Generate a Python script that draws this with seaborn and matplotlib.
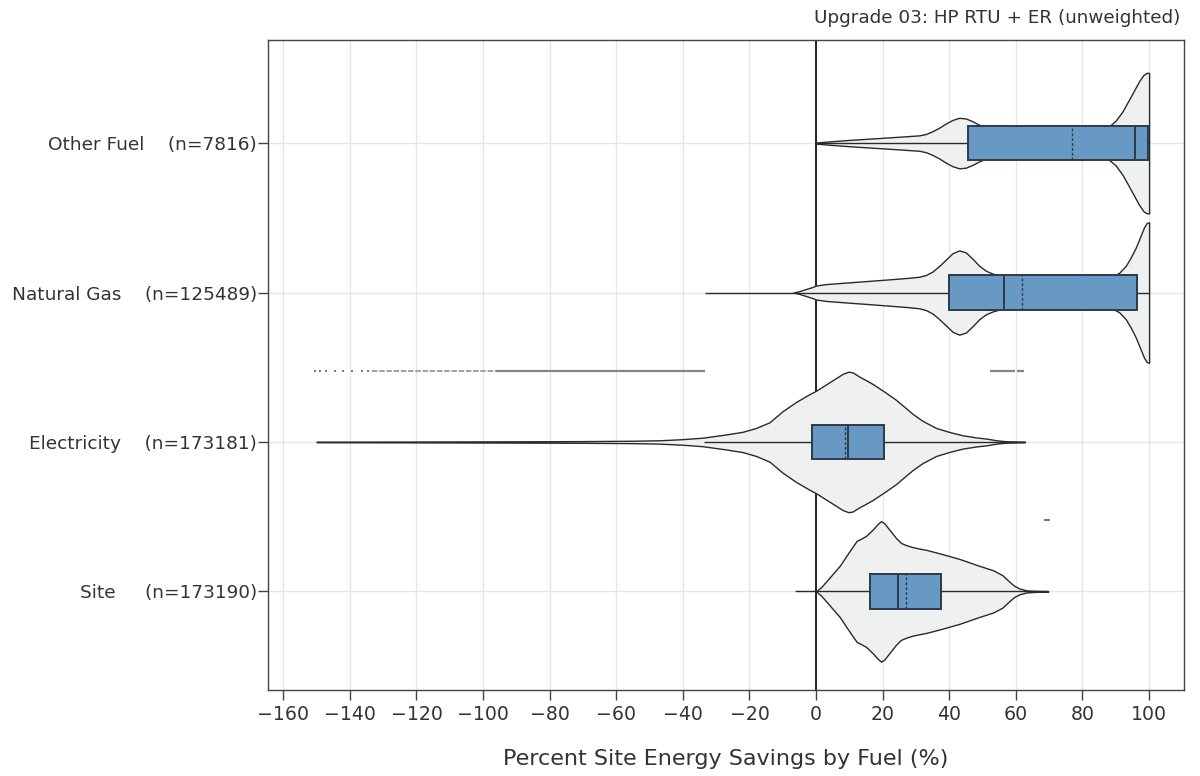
import numpy as np
import pandas as pd
import matplotlib
matplotlib.use("Agg")
import matplotlib.pyplot as plt
import seaborn as sns

# ---------------- data ----------------
categories = ["Site", "Electricity", "Natural Gas", "Other Fuel"]
counts = [173190, 173181, 125489, 7816]
label_pad = [5, 4, 4, 4]

# box statistics (percent savings)
whisker_lo = [-6.3, -33.8, -33.5, 0.0]
q1 = [16.3, -1.3, 39.8, 45.6]
median = [24.7, 9.7, 56.3, 95.9]
q3 = [37.4, 20.3, 96.3, 99.6]
whisker_hi = [69.7, 62.7, 100.0, 100.0]
mean = [27.1, 8.6, 61.8, 77.0]

# violin outlines: value positions and relative half-widths (1 = widest)
site_x = [0, 1.5, 3, 5, 7.2, 9, 11, 12.2, 13.5, 15, 17, 18.5, 19.5, 20.5, 22, 24, 25.5, 27, 29, 31,
          33.2, 38, 43.2, 48, 53.2, 56, 58, 59.5, 61, 63.3, 66, 69.7]
site_w = [0.0, 0.06, 0.14, 0.25, 0.37, 0.50, 0.64, 0.72, 0.75, 0.79, 0.88, 0.96, 1.0, 0.97, 0.88, 0.76,
          0.69, 0.66, 0.63, 0.61, 0.59, 0.53, 0.46, 0.38, 0.30, 0.23, 0.14, 0.08, 0.042, 0.014, 0.007, 0.004]

elec_x = [-150, -120, -90, -70, -55, -47, -40, -34, -27, -22, -18, -14, -10, -6, -2, 0, 2, 5, 8, 9.7,
          11, 13, 15, 17.2, 21, 24, 27, 29, 32, 36, 40.2, 44, 48, 51.3, 54, 57, 62.7]
elec_w = [0.004, 0.006, 0.009, 0.012, 0.017, 0.024, 0.04, 0.061, 0.107, 0.145, 0.20, 0.28, 0.44, 0.57,
          0.68, 0.73, 0.79, 0.88, 0.97, 1.0, 0.99, 0.93, 0.88, 0.82, 0.70, 0.60, 0.48, 0.40, 0.30, 0.20,
          0.14, 0.095, 0.065, 0.047, 0.025, 0.01, 0.004]

gas_x = [-6.8, -5, -3, -1, 0, 3, 10, 20, 28, 31, 33, 35, 37, 39, 41, 43, 45, 47, 49, 51, 53, 56, 62,
         75, 86, 89, 91, 93, 94.5, 96, 97.3, 98.5, 99.3, 100]
gas_w = [0.0, 0.02, 0.05, 0.08, 0.10, 0.12, 0.145, 0.18, 0.21, 0.225, 0.25, 0.30, 0.38, 0.47, 0.56,
         0.60, 0.57, 0.48, 0.38, 0.31, 0.27, 0.23, 0.20, 0.185, 0.20, 0.23, 0.28, 0.38, 0.50, 0.64,
         0.79, 0.93, 0.99, 1.0]

other_x = [0, 3, 10, 20, 28, 31, 33, 35, 37, 39, 41, 43, 45, 47, 49, 51, 55, 65, 80, 86, 88, 90, 92,
           94, 95.5, 97, 98.3, 99.3, 100]
other_w = [0.007, 0.02, 0.045, 0.075, 0.10, 0.11, 0.13, 0.17, 0.22, 0.28, 0.33, 0.36, 0.35, 0.31,
           0.26, 0.22, 0.18, 0.16, 0.17, 0.20, 0.24, 0.32, 0.45, 0.62, 0.75, 0.88, 0.97, 1.0, 1.0]

violin_x = [site_x, elec_x, gas_x, other_x]
violin_w = [site_w, elec_w, gas_w, other_w]

# outliers (drawn in a row above each violin)
elec_outlier_pts = [-150.5, -149.0, -147.2, -144.5, -142.0, -139.3, -136.4, -134.6]
elec_outlier_faint = [(-133.4, -96.0)]
elec_outlier_spans = [(-96.0, -33.3), (52.3, 59.8), (60.3, 62.5)]
site_outlier_pts = [68.6, 69.3, 70.0]

x_ticks = [-160, -140, -120, -100, -80, -60, -40, -20, 0, 20, 40, 60, 80, 100]
title = "Upgrade 03: HP RTU + ER (unweighted)"
xlabel = "Percent Site Energy Savings by Fuel (%)"

# ---------------- style ----------------
sns.set_theme(style="whitegrid")
plt.rcParams["font.family"] = ["DejaVu Sans"]
violin_fill = "#eff0f0"
box_fill = "#6898c4"
edge = "#2a2a2a"
box_edge = "#2e3a48"
grid_col = "#e6e6e6"
axis_col = "#444444"
text_col = "#333333"

fig = plt.figure(figsize=(12, 7.76), dpi=100)
ax = fig.add_axes([0.2233, 0.1108, 0.7634, 0.8377])

max_half = 0.47
box_half = 0.115
out_off = 0.476

for i, cat in enumerate(categories):
    xs = np.asarray(violin_x[i], dtype=float)
    ws = np.asarray(violin_w[i], dtype=float) * max_half
    ax.fill_between(xs, i - ws, i + ws, facecolor=violin_fill, edgecolor=edge,
                    linewidth=1.0, zorder=2)
    # whiskers
    ax.hlines(i, whisker_lo[i], q1[i], color=edge, linewidth=1.0, zorder=3)
    ax.hlines(i, q3[i], whisker_hi[i], color=edge, linewidth=1.0, zorder=3)
    # box
    ax.barh(i, q3[i] - q1[i], left=q1[i], height=2 * box_half, color=box_fill,
            edgecolor=box_edge, linewidth=1.4, zorder=4)
    ax.vlines(median[i], i - box_half, i + box_half, color=box_edge, linewidth=1.4, zorder=5)
    ax.vlines(mean[i], i - box_half, i + box_half, color=box_edge, linewidth=1.0,
              linestyles=(0, (2, 1.5)), zorder=5)

# outliers
ei = categories.index("Electricity")
si = categories.index("Site")
out_df = pd.DataFrame({
    "x": elec_outlier_pts + site_outlier_pts,
    "y": [ei + out_off] * len(elec_outlier_pts) + [si + out_off] * len(site_outlier_pts),
})
sns.scatterplot(data=out_df, x="x", y="y", ax=ax, marker="s", s=2.5, color="#7a7a7a",
                linewidth=0, zorder=3, legend=False)
for a, b in elec_outlier_faint:
    ax.hlines(ei + out_off, a, b, color="#9a9a9a", linewidth=1.3, linestyles=(0, (3, 1)), zorder=3)
for a, b in elec_outlier_spans:
    ax.hlines(ei + out_off, a, b, color="#858585", linewidth=1.6, zorder=3)

# zero line
ax.axvline(0, color="#222222", linewidth=1.4, zorder=1.5)

ax.set_xlim(-164.6, 110.5)
ax.set_ylim(-0.66, 3.69)
ax.set_xticks(x_ticks)
ax.set_xticklabels([f"\u2212{abs(t)}" if t < 0 else f"{t}" for t in x_ticks], fontsize=13.6, color=text_col)
ax.set_yticks(range(len(categories)))
ax.set_yticklabels([f"{c}{' ' * p}(n={n})" for c, p, n in zip(categories, label_pad, counts)],
                   fontsize=13.3, color=text_col)
ax.grid(True, color=grid_col, linewidth=1.0)
ax.set_axisbelow(True)
for s in ax.spines.values():
    s.set_visible(True)
    s.set_color(axis_col)
    s.set_linewidth(1.0)
ax.tick_params(axis="both", which="major", direction="out", length=7, width=1,
               color=axis_col, bottom=True, left=True)
ax.tick_params(axis="y", pad=1)
ax.tick_params(axis="x", pad=4)
ax.set_xlabel(xlabel, fontsize=16, color=text_col, labelpad=18)
ax.set_ylabel("")
ax.text(1.0 - 4 / 916, 1.0 + 22 / 650, title, transform=ax.transAxes, ha="right", va="center",
        fontsize=13.2, color=text_col)

fig.savefig("out.png", dpi=100, facecolor="white")
